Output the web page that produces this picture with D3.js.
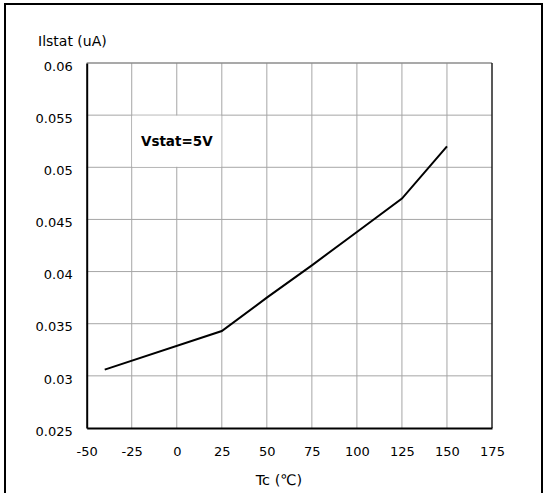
<!DOCTYPE html>
<html>
<head>
<meta charset="utf-8">
<script src="https://cdn.jsdelivr.net/npm/d3@7"></script>
<style>
  body { margin: 0; background: #fff; }
  text { font-family: "DejaVu Sans", sans-serif; font-size: 13px; fill: #000; }
</style>
</head>
<body>
<svg id="chart" width="544" height="493"></svg>
<script>
// data
var temps = [-40, 25, 50, 75, 100, 125, 150];
var istat = [0.0306, 0.0343, 0.0375, 0.0406, 0.0438, 0.0470, 0.0520];
var xTicks = [-50, -25, 0, 25, 50, 75, 100, 125, 150, 175];
var yTicks = [0.025, 0.03, 0.035, 0.04, 0.045, 0.05, 0.055, 0.06];
var xTitle = "Tc (\u2103)";
var yTitle = "Ilstat (uA)";
var noteText = "Vstat=5V";

var svg = d3.select("#chart");

// outer frame
svg.append("rect")
  .attr("x", 5).attr("y", 4).attr("width", 537).attr("height", 500)
  .attr("fill", "none").attr("stroke", "#000").attr("stroke-width", 2);

var x = d3.scaleLinear().domain([-50, 175]).range([86.7, 492]);
var y = d3.scaleLinear().domain([0.025, 0.06]).range([428, 63]);

// grid
svg.append("g").selectAll("line").data(xTicks.slice(1, -1)).enter().append("line")
  .attr("x1", d => x(d)).attr("x2", d => x(d))
  .attr("y1", y(0.06)).attr("y2", y(0.025))
  .attr("stroke", "#a6a6a6").attr("stroke-width", 1);
svg.append("g").selectAll("line").data(yTicks.slice(1, -1)).enter().append("line")
  .attr("x1", x(-50)).attr("x2", x(175))
  .attr("y1", d => y(d)).attr("y2", d => y(d))
  .attr("stroke", "#a6a6a6").attr("stroke-width", 1);

// top / right border
svg.append("line").attr("x1", x(-50)).attr("x2", x(175)).attr("y1", y(0.06)).attr("y2", y(0.06))
  .attr("stroke", "#8c8c8c").attr("stroke-width", 1.5);
svg.append("line").attr("x1", x(175)).attr("x2", x(175)).attr("y1", y(0.06)).attr("y2", y(0.025))
  .attr("stroke", "#222").attr("stroke-width", 1.5);

// note box covering grid
svg.append("rect")
  .attr("x", x(-25) + 0.5).attr("y", y(0.055) + 0.5)
  .attr("width", x(25) - x(-25) - 1).attr("height", y(0.05) - y(0.055) - 1)
  .attr("fill", "#fff");
svg.append("text")
  .attr("x", (x(-25) + x(25)) / 2).attr("y", (y(0.055) + y(0.05)) / 2 + 5)
  .attr("text-anchor", "middle").style("font-weight", "bold").style("font-size", "13.5px")
  .text(noteText);

// axes
var xAxis = d3.axisBottom(x).tickValues(xTicks).tickSize(0).tickPadding(19)
  .tickFormat(d => String(d));
var gx = svg.append("g").attr("transform", "translate(0," + y(0.025) + ")").call(xAxis);
gx.select(".domain").attr("stroke", "#000").attr("stroke-width", 2);
gx.selectAll("text").style("font-family", "DejaVu Sans").style("font-size", "13px");

var yAxis = d3.axisLeft(y).tickValues(yTicks).tickSize(0).tickPadding(14)
  .tickFormat(d => String(+d.toFixed(3)));
var gy = svg.append("g").attr("transform", "translate(" + x(-50) + ",0)").call(yAxis);
gy.select(".domain").attr("stroke", "#000").attr("stroke-width", 2);
gy.selectAll("text").style("font-family", "DejaVu Sans").style("font-size", "13px")
  .attr("dy", "0.55em");

// series
var line = d3.line().x((d, i) => x(temps[i])).y(d => y(d));
svg.append("path").datum(istat)
  .attr("d", line).attr("fill", "none")
  .attr("stroke", "#000").attr("stroke-width", 2);

// titles
svg.append("text").attr("x", 279).attr("y", 485).attr("text-anchor", "middle")
  .style("font-size", "14.5px").text(xTitle);
svg.append("text").attr("x", 38).attr("y", 46).style("font-size", "14px").text(yTitle);
</script>
</body>
</html>
